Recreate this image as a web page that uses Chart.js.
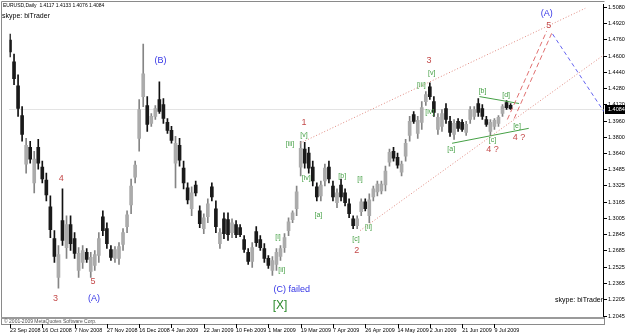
<!DOCTYPE html>
<html>
<head>
<meta charset="utf-8">
<script src="https://cdn.jsdelivr.net/npm/chart.js@4.4.1/dist/chart.umd.min.js"></script>
<style>
  html, body { margin: 0; padding: 0; background: #fff; }
  #wrap { width: 625px; height: 334px; }
</style>
</head>
<body>
<div id="wrap"><canvas id="chart" width="625" height="334"></canvas></div>
<script>
// EURUSD daily, one candle per two sessions (23 Sep 2008 .. 9 Jul 2009)
const barOpen = [
  1.4758, 1.4543, 1.4309, 1.4016, 1.3538, 1.3704, 1.3353, 1.3704, 1.3509, 1.3382,
  1.3118, 1.2806, 1.2425, 1.2982, 1.2718, 1.2943, 1.2806, 1.2494, 1.2572, 1.2670,
  1.2484, 1.2543, 1.2640, 1.3021, 1.2904, 1.2699, 1.2611, 1.2611, 1.2748, 1.2923,
  1.3138, 1.3411, 1.3792, 1.4202, 1.4114, 1.3938, 1.4007, 1.4173, 1.4124, 1.3948,
  1.3870, 1.3548, 1.3724, 1.3499, 1.3304, 1.3099, 1.3333, 1.3079, 1.2904, 1.3021,
  1.3314, 1.3099, 1.2757, 1.3001, 1.2992, 1.2865, 1.2943, 1.2914, 1.2796, 1.2670,
  1.2582, 1.2874, 1.2796, 1.2709, 1.2611, 1.2494, 1.2552, 1.2630, 1.2718, 1.2884,
  1.2992, 1.3099, 1.3509, 1.3685, 1.3646, 1.3509, 1.3314, 1.3226, 1.3372, 1.3509,
  1.3323, 1.3158, 1.3333, 1.3255, 1.3148, 1.3001, 1.2933, 1.3070, 1.3167, 1.3031,
  1.3216, 1.3265, 1.3275, 1.3333, 1.3558, 1.3665, 1.3606, 1.3460, 1.3616, 1.3821,
  1.4026, 1.3841, 1.3948, 1.4153, 1.4299, 1.4153, 1.3880, 1.3909, 1.4085, 1.3958,
  1.3831, 1.3958, 1.3948, 1.3850, 1.3977, 1.4007, 1.4134, 1.4085, 1.3977, 1.3860,
  1.3909, 1.3938, 1.4036, 1.4143, 1.4117
];
const barHigh = [
  1.4817, 1.4621, 1.4417, 1.4104, 1.3792, 1.3763, 1.3665, 1.3782, 1.3567, 1.3450,
  1.3226, 1.2884, 1.2738, 1.3294, 1.3031, 1.3031, 1.2865, 1.2718, 1.2738, 1.2709,
  1.2670, 1.2689, 1.2865, 1.3079, 1.2962, 1.2738, 1.2728, 1.2767, 1.2904, 1.3079,
  1.3392, 1.3567, 1.4173, 1.4719, 1.4202, 1.4036, 1.4114, 1.4348, 1.4182, 1.3987,
  1.3909, 1.3811, 1.3792, 1.3567, 1.3353, 1.3314, 1.3372, 1.3128, 1.3050, 1.3197,
  1.3353, 1.3177, 1.2904, 1.3060, 1.3060, 1.3001, 1.2982, 1.2943, 1.2835, 1.2709,
  1.2767, 1.2923, 1.2835, 1.2757, 1.2640, 1.2630, 1.2709, 1.2738, 1.2855, 1.3011,
  1.3079, 1.3323, 1.3763, 1.3753, 1.3704, 1.3567, 1.3353, 1.3372, 1.3538, 1.3567,
  1.3372, 1.3294, 1.3392, 1.3294, 1.3197, 1.3031, 1.3031, 1.3197, 1.3197, 1.3245,
  1.3323, 1.3372, 1.3372, 1.3519, 1.3685, 1.3704, 1.3646, 1.3567, 1.3782, 1.4007,
  1.4055, 1.4007, 1.4153, 1.4251, 1.4338, 1.4202, 1.4036, 1.4075, 1.4134, 1.4007,
  1.3977, 1.3987, 1.3977, 1.3958, 1.4104, 1.4104, 1.4182, 1.4124, 1.4007, 1.3977,
  1.3987, 1.4016, 1.4124, 1.4163, 1.4133
];
const barLow = [
  1.4592, 1.4319, 1.4007, 1.3763, 1.3450, 1.3548, 1.3255, 1.3489, 1.3353, 1.3177,
  1.2816, 1.2572, 1.2318, 1.2738, 1.2611, 1.2689, 1.2611, 1.2425, 1.2513, 1.2572,
  1.2425, 1.2494, 1.2572, 1.2835, 1.2709, 1.2591, 1.2572, 1.2552, 1.2689, 1.2865,
  1.3050, 1.3353, 1.3665, 1.4104, 1.3860, 1.3909, 1.3977, 1.4036, 1.3938, 1.3841,
  1.3743, 1.3304, 1.3519, 1.3294, 1.3148, 1.3031, 1.3226, 1.2914, 1.2855, 1.2962,
  1.3177, 1.2865, 1.2709, 1.2806, 1.2787, 1.2816, 1.2816, 1.2826, 1.2670, 1.2552,
  1.2523, 1.2728, 1.2689, 1.2572, 1.2513, 1.2445, 1.2494, 1.2591, 1.2670, 1.2835,
  1.2962, 1.3031, 1.3421, 1.3499, 1.3450, 1.3323, 1.3177, 1.3177, 1.3323, 1.3353,
  1.3177, 1.3109, 1.3177, 1.3128, 1.3011, 1.2904, 1.2904, 1.3031, 1.3079, 1.2962,
  1.3177, 1.3226, 1.3245, 1.3275, 1.3519, 1.3567, 1.3499, 1.3421, 1.3567, 1.3763,
  1.3938, 1.3792, 1.3880, 1.4114, 1.4173, 1.4007, 1.3831, 1.3860, 1.3938, 1.3811,
  1.3782, 1.3860, 1.3860, 1.3821, 1.3938, 1.3977, 1.4007, 1.3977, 1.3909, 1.3821,
  1.3880, 1.3909, 1.4007, 1.4075, 1.4076
];
const barClose = [
  1.4641, 1.4377, 1.4085, 1.3831, 1.3724, 1.3587, 1.3587, 1.3548, 1.3392, 1.3236,
  1.2894, 1.2630, 1.2650, 1.2787, 1.2943, 1.2757, 1.2660, 1.2660, 1.2689, 1.2601,
  1.2621, 1.2650, 1.2806, 1.2884, 1.2757, 1.2621, 1.2699, 1.2728, 1.2865, 1.3040,
  1.3323, 1.3528, 1.4075, 1.4426, 1.3929, 1.4007, 1.4085, 1.4055, 1.3987, 1.3870,
  1.3772, 1.3743, 1.3577, 1.3353, 1.3187, 1.3255, 1.3255, 1.2953, 1.3011, 1.3148,
  1.3216, 1.2923, 1.2865, 1.2855, 1.2845, 1.2962, 1.2845, 1.2845, 1.2699, 1.2582,
  1.2718, 1.2767, 1.2718, 1.2611, 1.2543, 1.2591, 1.2670, 1.2709, 1.2816, 1.2972,
  1.3060, 1.3265, 1.3694, 1.3548, 1.3499, 1.3372, 1.3216, 1.3333, 1.3499, 1.3392,
  1.3216, 1.3255, 1.3216, 1.3158, 1.3050, 1.2933, 1.3001, 1.3167, 1.3099, 1.3187,
  1.3294, 1.3343, 1.3343, 1.3470, 1.3655, 1.3597, 1.3528, 1.3538, 1.3743, 1.3958,
  1.3958, 1.3968, 1.4094, 1.4221, 1.4202, 1.4046, 1.3997, 1.4036, 1.3977, 1.3850,
  1.3938, 1.3890, 1.3880, 1.3929, 1.4075, 1.4075, 1.4046, 1.4007, 1.3929, 1.3948,
  1.3968, 1.3997, 1.4104, 1.4094, 1.4084
];

// date axis: a label every 8 candles
const dateTickBars = [0, 8, 16, 24, 32, 40, 48, 56, 64, 72, 80, 88, 96, 104, 112, 120];
const dateLabels = ['23 Sep 2008', '16 Oct 2008', '7 Nov 2008', '27 Nov 2008', '16 Dec 2008',
  '4 Jan 2009', '22 Jan 2009', '10 Feb 2009', '1 Mar 2009', '19 Mar 2009', '7 Apr 2009',
  '26 Apr 2009', '14 May 2009', '2 Jun 2009', '21 Jun 2009', '9 Jul 2009'];

const priceTicks = [1.5080, 1.4920, 1.4760, 1.4600, 1.4440, 1.4280, 1.4120, 1.3960, 1.3800,
  1.3640, 1.3485, 1.3325, 1.3165, 1.3005, 1.2845, 1.2685, 1.2525, 1.2365, 1.2205, 1.2045];

// wave marks: text, candle position, price, kind
const labelText = ['(B)', '4', '3', '5', '(A)', '1', '[v]', '[iii]', '[iv]', '[a]', '[b]', '[c]', '2',
  '[i]', '[ii]', '[i]', '[ii]', '(C) failed', '[X]', '3', '[v]', '[iii]', '[iv]', '[a]', '[b]',
  '[c]', '4 ?', '[d]', '[e]', '4 ?', '(A)', '5'];
const labelBar = [37.3, 12.7, 11.25, 20.55, 20.8, 72.8, 72.8, 69.35, 73.4, 76.4, 82.3, 85.7, 85.9,
  86.7, 88.8, 66.4, 67.3, 69.8, 66.9, 103.8, 104.45, 101.9, 104.0, 109.3, 117.05,
  119.5, 119.5, 122.9, 125.6, 126.1, 132.95, 133.45];
const labelPrice = [1.4553, 1.3392, 1.2216, 1.2382, 1.2221, 1.3943, 1.3821, 1.3733, 1.3397, 1.3040,
  1.3421, 1.2801, 1.2689, 1.3387, 1.2918, 1.2821, 1.2499, 1.2303, 1.2147, 1.4558, 1.4431,
  1.4319, 1.4051, 1.3685, 1.4256, 1.3772, 1.3685, 1.4216, 1.3909, 1.3802, 1.5022, 1.4905];
const labelKind = ['blue', 'red', 'red', 'red', 'blue', 'red', 'green', 'green', 'green', 'green',
  'green', 'green', 'red', 'green', 'green', 'green', 'green', 'blue', 'big', 'red', 'green',
  'green', 'green', 'green', 'green', 'green', 'red', 'green', 'green', 'red', 'blue', 'red'];

// trend lines as [candle, price] pairs
const channelTop = [[71.8, 1.3743], [142.5, 1.5070]];
const channelBottom = [[86.7, 1.2884], [147.1, 1.4612]];
const targetPathA = [[123.2, 1.3977], [132.95, 1.4846]];
const targetPathB = [[124.9, 1.3987], [134.2, 1.4826]];
const afterTarget = [[134.4, 1.4817], [147.1, 1.4055]];
const triangleTop = [[116.3, 1.4202], [126.1, 1.4134]];
const triangleBottom = [[109.5, 1.3743], [128.5, 1.3890]];

const FONT = '"Liberation Sans", Arial, sans-serif';
Chart.defaults.font.family = FONT;

const lastIdx = barClose.length - 1;
const isUp = barOpen.map((o, i) => barClose[i] >= o);

const wickData = barHigh.map((h, i) => ({ x: i, y: [barLow[i], h] }));
const bodyData = barOpen.map((o, i) => ({ x: i, y: [o, barClose[i]] }));

function toPts(arr) {
    return arr.map(p => ({ x: p[0], y: p[1] }));
}

function trendLine(arr, color, dash) {
    return {
        type: 'line',
        data: toPts(arr),
        borderColor: color,
        borderWidth: 1,
        borderDash: dash,
        pointRadius: 0,
        fill: false,
        tension: 0
    };
}

const kindStyle = {
    red: { font: '9px ' + FONT, color: '#c44a4a' },
    blue: { font: '9px ' + FONT, color: '#3434e6' },
    green: { font: '7px ' + FONT, color: '#45a045' },
    big: { font: '12px ' + FONT, color: '#2b8a2b' }
};

const decorPlugin = {
    id: 'decor',
    beforeDatasetsDraw(chart) {
        const ctx = chart.ctx;
        const a = chart.chartArea;
        const y = Math.round(chart.scales.y.getPixelForValue(barClose[lastIdx])) + 0.5;
        // bid line
        ctx.save();
        ctx.strokeStyle = '#c8c8c8';
        ctx.setLineDash([1, 1]);
        ctx.beginPath();
        ctx.moveTo(a.left, y);
        ctx.lineTo(a.right, y);
        ctx.stroke();
        ctx.restore();
    },
    afterDatasetsDraw(chart) {
        const ctx = chart.ctx;
        const xs = chart.scales.x;
        const ys = chart.scales.y;
        ctx.save();
        ctx.textAlign = 'center';
        ctx.textBaseline = 'middle';
        labelText.forEach((t, i) => {
            const st = kindStyle[labelKind[i]];
            ctx.font = st.font;
            ctx.fillStyle = st.color;
            ctx.fillText(t, xs.getPixelForValue(labelBar[i]), ys.getPixelForValue(labelPrice[i]));
        });
        ctx.restore();
    },
    afterDraw(chart) {
        const ctx = chart.ctx;
        const a = chart.chartArea;
        const xs = chart.scales.x;
        const ys = chart.scales.y;
        ctx.save();

        // frame
        ctx.strokeStyle = '#8a8a8a';
        ctx.lineWidth = 1;
        ctx.beginPath();
        ctx.moveTo(1.5, 325);
        ctx.lineTo(1.5, 1.5);
        ctx.lineTo(a.right + 0.5, 1.5);
        ctx.stroke();
        ctx.fillStyle = '#9a9a9a';
        ctx.fillRect(1, a.bottom, a.right - 1, 2);
        ctx.strokeStyle = '#8a8a8a';
        ctx.beginPath();
        ctx.moveTo(1, 324.5);
        ctx.lineTo(a.right + 1, 324.5);
        ctx.moveTo(a.right + 0.5, a.bottom);
        ctx.lineTo(a.right + 0.5, 325);
        ctx.stroke();

        // date tick marks
        ctx.strokeStyle = '#000';
        ctx.beginPath();
        dateTickBars.forEach(b => {
            const x = Math.round(xs.getPixelForValue(b)) + 0.5;
            ctx.moveTo(x, 324);
            ctx.lineTo(x, 328);
        });
        ctx.stroke();

        // sub window caption
        ctx.fillStyle = '#505050';
        ctx.font = '5px ' + FONT;
        ctx.textAlign = 'left';
        ctx.textBaseline = 'middle';
        ctx.fillText('\u00a9 2001-2009 MetaQuotes Software Corp.', 4, 321.5);

        // header
        ctx.fillStyle = '#000';
        ctx.font = '5px ' + FONT;
        ctx.fillText('EURUSD,Daily  ' + [barOpen[lastIdx], barHigh[lastIdx], barLow[lastIdx], barClose[lastIdx]]
            .map(v => v.toFixed(4)).join(' '), 3, 5.5);
        ctx.font = '7px ' + FONT;
        ctx.fillText('skype: biTrader', 2, 16.5);
        ctx.textAlign = 'right';
        ctx.fillText('skype: biTrader', a.right - 1, 300);

        // last price box
        const py = Math.round(ys.getPixelForValue(barClose[lastIdx]));
        ctx.fillStyle = '#000';
        ctx.fillRect(a.right + 1, py - 4, 625 - a.right - 1, 9);
        ctx.fillStyle = '#fff';
        ctx.textAlign = 'left';
        ctx.font = '5.5px ' + FONT;
        ctx.fillText(barClose[lastIdx].toFixed(4), a.right + 4, py + 0.5);
        ctx.restore();
    }
};

new Chart(document.getElementById('chart'), {
    type: 'bar',
    data: {
        datasets: [
            {
                data: wickData,
                backgroundColor: isUp.map(u => u ? '#858585' : '#111111'),
                barThickness: 1,
                grouped: false,
                order: 2
            },
            {
                data: bodyData,
                backgroundColor: isUp.map(u => u ? '#ababab' : '#1a1a1a'),
                barThickness: 3,
                minBarLength: 1,
                grouped: false,
                order: 1
            },
            trendLine(channelTop, '#e08a80', [1, 2]),
            trendLine(channelBottom, '#e08a80', [1, 2]),
            trendLine(targetPathA, '#e07070', [5, 3]),
            trendLine(targetPathB, '#e07070', [5, 3]),
            trendLine(afterTarget, '#6464f0', [4, 3]),
            trendLine(triangleTop, '#45a045', []),
            trendLine(triangleBottom, '#45a045', [])
        ]
    },
    options: {
        responsive: false,
        animation: false,
        layout: { padding: { left: 2, top: 2, right: 0, bottom: 0 } },
        plugins: {
            legend: { display: false },
            tooltip: { enabled: false }
        },
        scales: {
            x: {
                type: 'linear',
                position: 'bottom',
                min: -0.12,
                max: 147.14,
                offset: false,
                grid: { display: false, drawTicks: false },
                border: { display: false },
                afterBuildTicks: s => { s.ticks = dateTickBars.map(v => ({ value: v })); },
                afterFit: s => { s.height = 17; },
                ticks: {
                    autoSkip: false,
                    maxRotation: 0,
                    minRotation: 0,
                    align: 'start',
                    padding: 10,
                    color: '#000',
                    font: { size: 5.4 },
                    callback: (v, i) => dateLabels[i]
                }
            },
            y: {
                type: 'linear',
                position: 'right',
                min: 1.20352,
                max: 1.51093,
                grid: { drawOnChartArea: false, drawTicks: true, tickLength: 3, color: '#000' },
                border: { display: true, color: '#000' },
                afterBuildTicks: s => { s.ticks = priceTicks.map(v => ({ value: v })); },
                afterFit: s => { s.width = 21; },
                ticks: {
                    padding: 1,
                    color: '#000',
                    font: { size: 5.5 },
                    callback: v => v.toFixed(4)
                }
            }
        }
    },
    plugins: [decorPlugin]
});
</script>
</body>
</html>
